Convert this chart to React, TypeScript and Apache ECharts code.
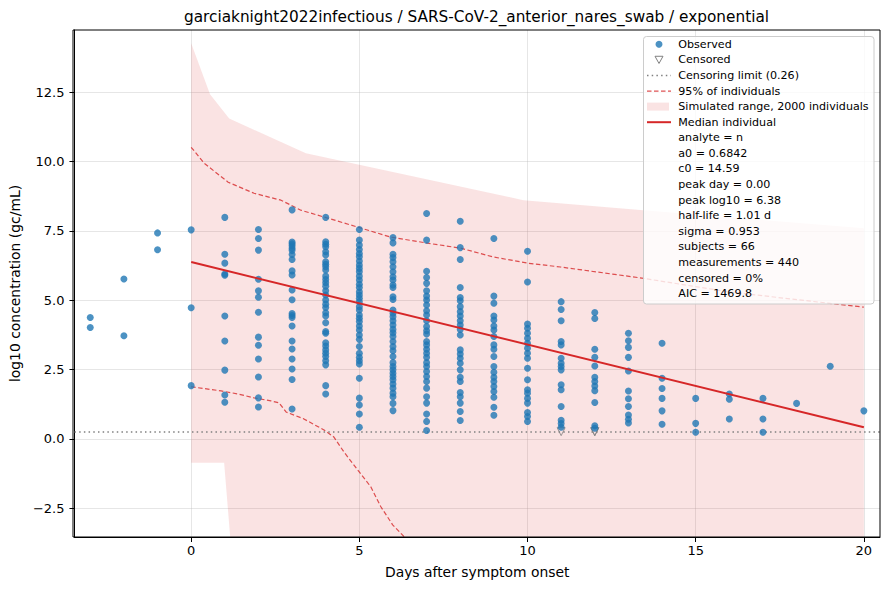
import React, { useEffect, useRef } from 'react';
import * as echarts from 'echarts';

const TITLE = 'garciaknight2022infectious / SARS-CoV-2_anterior_nares_swab / exponential';
const X_LABEL = 'Days after symptom onset';
const Y_LABEL = 'log10 concentration (gc/mL)';
const X_MIN = -3.47;
const X_MAX = 20.48;
const Y_MIN = -3.54;
const Y_MAX = 14.75;
const xTicks = [0, 5, 10, 15, 20];
const yTicks = [-2.5, 0, 2.5, 5, 7.5, 10, 12.5];
const CENSOR_LIMIT = 0.26;

// Observed values per day after symptom onset
const obsM3 = [4.38, 4.02];
const obsM2 = [5.77, 3.72];
const obsM1 = [7.43, 6.82];
const obs0 = [7.54, 4.73, 1.92];
const obs1 = [7.99, 6.66, 6.34, 5.95, 5.9, 4.43, 3.53, 2.48, 1.58, 1.32];
const obs2 = [7.55, 7.23, 6.81, 5.76, 5.34, 5.11, 4.57, 3.67, 3.38, 2.88, 2.23, 1.48, 1.15];
const obs3 = [8.26, 7.1, 7.04, 6.97, 6.88, 6.8, 6.65, 6.47, 6.06, 5.91, 5.37, 5.02, 4.52, 4.45, 4.38, 4.07, 3.53, 3.24, 2.88, 2.52, 2.14, 1.08];
const obs4 = [7.99, 7.11, 7.02, 6.93, 6.75, 6.63, 6.39, 6.3, 6.21, 6.09, 5.87, 5.75, 5.63, 5.51, 5.34, 5.19, 5.01, 4.86, 4.74, 4.55, 4.43, 4.19, 3.87, 3.81, 3.47, 3.35, 3.21, 3.09, 2.97, 2.82, 2.67, 1.92, 1.62];
const obs5 = [7.55, 7.17, 6.99, 6.83, 6.69, 6.57, 6.42, 6.27, 6.15, 6.03, 5.87, 5.73, 5.58, 5.46, 5.31, 5.19, 5.07, 4.95, 4.77, 4.65, 4.47, 4.35, 4.23, 4.07, 3.93, 3.75, 3.59, 3.33, 3.09, 2.94, 2.82, 2.7, 2.19, 1.47, 1.22, 0.9, 0.42];
const obs6 = [7.26, 7.07, 6.66, 6.54, 6.39, 6.21, 6.03, 5.85, 5.73, 5.55, 5.46, 5.13, 5.03, 4.65, 4.53, 4.41, 4.26, 4.11, 3.95, 3.83, 3.69, 3.51, 3.33, 3.18, 2.97, 2.75, 2.61, 2.49, 2.37, 2.25, 2.13, 1.98, 1.83, 1.65, 1.52, 1.28, 1.02];
const obs7 = [8.13, 7.17, 6.05, 5.82, 5.61, 5.34, 5.15, 5.01, 4.83, 4.62, 4.47, 4.26, 4.05, 3.9, 3.78, 3.51, 3.39, 3.23, 3.09, 2.94, 2.75, 2.61, 2.43, 2.25, 2.07, 1.83, 1.52, 1.29, 0.9, 0.63, 0.3];
const obs8 = [7.85, 6.9, 6.47, 5.46, 5.1, 4.98, 4.77, 4.59, 4.43, 4.26, 4.11, 3.95, 3.75, 3.21, 3.06, 2.91, 2.73, 2.49, 2.22, 2.07, 1.67, 1.52, 1.29, 0.99, 0.66];
const obs9 = [7.23, 5.15, 4.89, 4.43, 4.29, 4.07, 3.93, 3.69, 3.39, 3.23, 2.97, 2.61, 2.4, 2.22, 2.07, 1.89, 1.71, 1.5, 1.14, 0.85];
const obs10 = [6.77, 5.66, 4.14, 3.99, 3.81, 3.63, 3.45, 3.27, 3.09, 2.91, 2.55, 2.13, 1.77, 1.65, 1.46, 1.29, 0.95, 0.81, 0.63];
const obs11 = [4.95, 4.67, 4.26, 3.51, 3.39, 2.91, 2.73, 2.61, 2.49, 1.95, 1.77, 1.17, 0.67, 0.55, 0.42];
const obs12 = [4.56, 4.34, 3.23, 2.94, 2.63, 2.22, 2.07, 1.91, 1.74, 1.31, 0.47, 0.38];
const obs13 = [3.81, 3.54, 3.3, 2.94, 2.45, 1.73, 1.45, 1.17, 0.86, 0.71, 0.57];
const obs14 = [3.45, 2.19, 1.82, 1.46, 1.01, 0.53];
const obs15 = [1.46, 0.56, 0.24];
const obs16 = [1.62, 1.43, 0.72];
const obs17 = [1.46, 0.72, 0.24];
const obs18 = [1.28];
const obs19 = [2.62];
const obs20 = [1.01];

const obsDays = [-3, -2, -1, 0, 1, 2, 3, 4, 5, 6, 7, 8, 9, 10, 11, 12, 13, 14, 15, 16, 17, 18, 19, 20];
const obsColumns = [obsM3, obsM2, obsM1, obs0, obs1, obs2, obs3, obs4, obs5, obs6, obs7, obs8, obs9, obs10, obs11, obs12, obs13, obs14, obs15, obs16, obs17, obs18, obs19, obs20];

const censoredDays = [11, 12, 12];
const censoredValues = [0.26, 0.26, 0.26];

// Median individual
const medianDays = [0, 20];
const medianValues = [6.38, 0.42];

// 95% of individuals
const upper95Days = [0, 0.39, 1.1, 1.87, 2.67, 3.26, 4.07, 4.95, 5.93, 7.03, 8.01, 8.99, 10, 10.98, 13.4, 16, 20];
const upper95Values = [10.52, 9.94, 9.26, 8.86, 8.61, 8.25, 7.96, 7.64, 7.28, 7.06, 6.88, 6.56, 6.34, 6.2, 5.8, 5.3, 4.75];
const lower95Days = [0, 0.89, 1.39, 1.87, 2.37, 2.61, 2.82, 3.35, 3.95, 4.24, 4.54, 4.95, 5.34, 5.64, 5.99, 6.33, 6.8];
const lower95Values = [1.88, 1.73, 1.62, 1.48, 1.37, 1.3, 0.97, 0.72, 0.32, 0.07, -0.47, -1.12, -1.73, -2.45, -3.1, -3.53, -4.2];

// Simulated range (2000 individuals)
const bandUpperDays = [0, 0.56, 1.13, 3.41, 9.88, 13.44, 20];
const bandUpperValues = [14.27, 12.43, 11.56, 10.3, 8.61, 8.25, 7.6];
const bandLowerDays = [0, 0.98, 1.16, 20];
const bandLowerValues = [-0.86, -0.86, -3.8, -10];

const legendLabels = ['Observed', 'Censored', 'Censoring limit (0.26)', '95% of individuals', 'Simulated range, 2000 individuals', 'Median individual'];
const statLines = ['analyte = n', 'a0 = 0.6842', 'c0 = 14.59', 'peak day = 0.00', 'peak log10 = 6.38', 'half-life = 1.01 d', 'sigma = 0.953', 'subjects = 66', 'measurements = 440', 'censored = 0%', 'AIC = 1469.8'];

const FONT = '"DejaVu Sans", Verdana, sans-serif';
const BLUE = '#1f77b4';
const RED = '#d62728';
const BAND = 'rgba(214,39,40,0.13)';
const DASH_RED = 'rgba(214,39,40,0.8)';
const GRAY = '#808080';

const GRID = { left: 73, top: 30, right: 9, bottom: 53 };
const W = 889;
const H = 590;

function fmtY(v: number) {
  const s = Math.abs(v).toFixed(1);
  return v < 0 ? '\u2212' + s : s;
}
function fmtX(v: number) {
  return v < 0 ? '\u2212' + Math.abs(v) : String(v);
}

export default function App() {
  const ref = useRef<HTMLDivElement>(null);
  useEffect(() => {
    document.body.style.margin = '0';
    if (!ref.current) return;
    const chart = echarts.init(ref.current, undefined, { renderer: 'svg' });

    const obsData: number[][] = [];
    obsDays.forEach((d, i) => obsColumns[i].forEach((v) => obsData.push([d, v])));
    const censData = censoredDays.map((d, i) => [d, censoredValues[i]]);
    const medData = medianDays.map((d, i) => [d, medianValues[i]]);
    const up95 = upper95Days.map((d, i) => [d, upper95Values[i]]);
    const lo95 = lower95Days.map((d, i) => [d, lower95Values[i]]);

    // legend
    const lx = 643.5, ly = 36.5, lw = 230.5, lh = 267.5;
    const rowY0 = 44.3, rowDy = 15.58;
    const hx0 = 647, hx1 = 671, hxc = 659, tx = 678.3;
    const legendEls: any[] = [
      { type: 'rect', shape: { x: lx, y: ly, width: lw, height: lh, r: 3 }, style: { fill: 'rgba(255,255,255,0.8)', stroke: '#cccccc', lineWidth: 1 }, z: 100 },
      { type: 'circle', shape: { cx: hxc, cy: rowY0, r: 3.5 }, style: { fill: BLUE, opacity: 0.8 }, z: 101 },
      { type: 'polygon', shape: { points: [[hxc - 4, rowY0 + rowDy - 3.6], [hxc + 4, rowY0 + rowDy - 3.6], [hxc, rowY0 + rowDy + 3.6]] }, style: { fill: 'none', stroke: GRAY, lineWidth: 1 }, z: 101 },
      { type: 'line', shape: { x1: hx0, y1: rowY0 + 2 * rowDy, x2: hx1, y2: rowY0 + 2 * rowDy }, style: { stroke: GRAY, lineWidth: 1.5, lineDash: [1.5, 3.2] }, z: 101 },
      { type: 'line', shape: { x1: hx0, y1: rowY0 + 3 * rowDy, x2: hx1, y2: rowY0 + 3 * rowDy }, style: { stroke: DASH_RED, lineWidth: 1.2, lineDash: [4.5, 2.5] }, z: 101 },
      { type: 'rect', shape: { x: hx0, y: rowY0 + 4 * rowDy - 4, width: hx1 - hx0 - 2, height: 8 }, style: { fill: BAND }, z: 101 },
      { type: 'line', shape: { x1: hx0, y1: rowY0 + 5 * rowDy, x2: hx1, y2: rowY0 + 5 * rowDy }, style: { stroke: RED, lineWidth: 2 }, z: 101 },
    ];
    [...legendLabels, ...statLines].forEach((t, i) => {
      legendEls.push({
        type: 'text', x: tx, y: rowY0 + i * rowDy, z: 101,
        style: { text: t, fill: '#000', fontSize: 11.1, fontFamily: FONT, textAlign: 'left', textVerticalAlign: 'middle' },
      });
    });

    const option: any = {
      animation: false,
      backgroundColor: '#fff',
      textStyle: { fontFamily: FONT },
      grid: { ...GRID, containLabel: false },
      xAxis: {
        type: 'value', min: X_MIN, max: X_MAX,
        name: X_LABEL, nameLocation: 'middle', nameGap: 28,
        nameTextStyle: { fontSize: 13.9, color: '#000', fontFamily: FONT },
        axisLine: { show: true, onZero: false, lineStyle: { color: '#000', width: 1 } },
        axisTick: { show: true, inside: false, length: 5, customValues: xTicks, lineStyle: { color: '#000' } },
        axisLabel: { customValues: xTicks, formatter: fmtX, fontSize: 13, color: '#000', margin: 7, fontFamily: FONT },
        splitLine: { show: true, lineStyle: { color: 'rgba(176,176,176,0.4)', width: 0.8 } },
      },
      yAxis: {
        type: 'value', min: Y_MIN, max: Y_MAX,
        name: Y_LABEL, nameLocation: 'middle', nameGap: 49, nameRotate: 90,
        nameTextStyle: { fontSize: 13.9, color: '#000', fontFamily: FONT },
        axisLine: { show: true, onZero: false, lineStyle: { color: '#000', width: 1 } },
        axisTick: { show: true, inside: false, length: 5, customValues: yTicks, lineStyle: { color: '#000' } },
        axisLabel: { customValues: yTicks, formatter: fmtY, fontSize: 13, color: '#000', margin: 10, fontFamily: FONT },
        splitLine: { show: true, lineStyle: { color: 'rgba(176,176,176,0.4)', width: 0.8 } },
      },
      graphic: [
        { type: 'text', x: (GRID.left + W - GRID.right) / 2, y: 17, z: 50,
          style: { text: TITLE, fill: '#000', fontSize: 15.3, fontFamily: FONT, textAlign: 'center', textVerticalAlign: 'middle' } },
        { type: 'rect', shape: { x: GRID.left, y: GRID.top, width: W - GRID.left - GRID.right, height: H - GRID.top - GRID.bottom },
          style: { fill: 'none', stroke: '#000', lineWidth: 1 }, z: 90, silent: true },
        ...legendEls,
      ],
      series: [
        {
          name: 'Simulated range, 2000 individuals', type: 'custom', silent: true, z: 1,
          data: [[0, 0]],
          renderItem: (_params: any, api: any) => {
            const pts: number[][] = [];
            bandUpperDays.forEach((d, i) => pts.push(api.coord([d, Math.min(bandUpperValues[i], Y_MAX)])));
            for (let i = bandLowerDays.length - 1; i >= 0; i--) {
              pts.push(api.coord([bandLowerDays[i], Math.max(bandLowerValues[i], Y_MIN)]));
            }
            return { type: 'polygon', shape: { points: pts }, style: { fill: BAND } };
          },
        },
        {
          name: '95% of individuals', type: 'line', data: up95, symbol: 'none', z: 3, silent: true,
          lineStyle: { color: DASH_RED, width: 1.2, type: [4.5, 2.5] },
        },
        {
          name: '95% of individuals (lower)', type: 'line', data: lo95, symbol: 'none', z: 3, silent: true,
          lineStyle: { color: DASH_RED, width: 1.2, type: [4.5, 2.5] },
        },
        {
          name: 'Censored', type: 'scatter', data: censData, symbol: 'triangle', symbolRotate: 180, symbolSize: 8, z: 4,
          itemStyle: { color: 'rgba(0,0,0,0)', borderColor: GRAY, borderWidth: 1 },
          markLine: {
            silent: true, symbol: 'none', label: { show: false },
            lineStyle: { color: GRAY, width: 1.5, type: [1.5, 3.2] },
            data: [{ yAxis: CENSOR_LIMIT }],
          },
        },
        {
          name: 'Observed', type: 'scatter', data: obsData, symbol: 'circle', symbolSize: 7, z: 5,
          itemStyle: { color: BLUE, opacity: 0.8 },
        },
        {
          name: 'Median individual', type: 'line', data: medData, symbol: 'none', z: 6, silent: true,
          lineStyle: { color: RED, width: 2 },
        },
      ],
    };
    chart.setOption(option);
    return () => chart.dispose();
  }, []);
  return <div ref={ref} style={{ width: W, height: H }} />;
}
